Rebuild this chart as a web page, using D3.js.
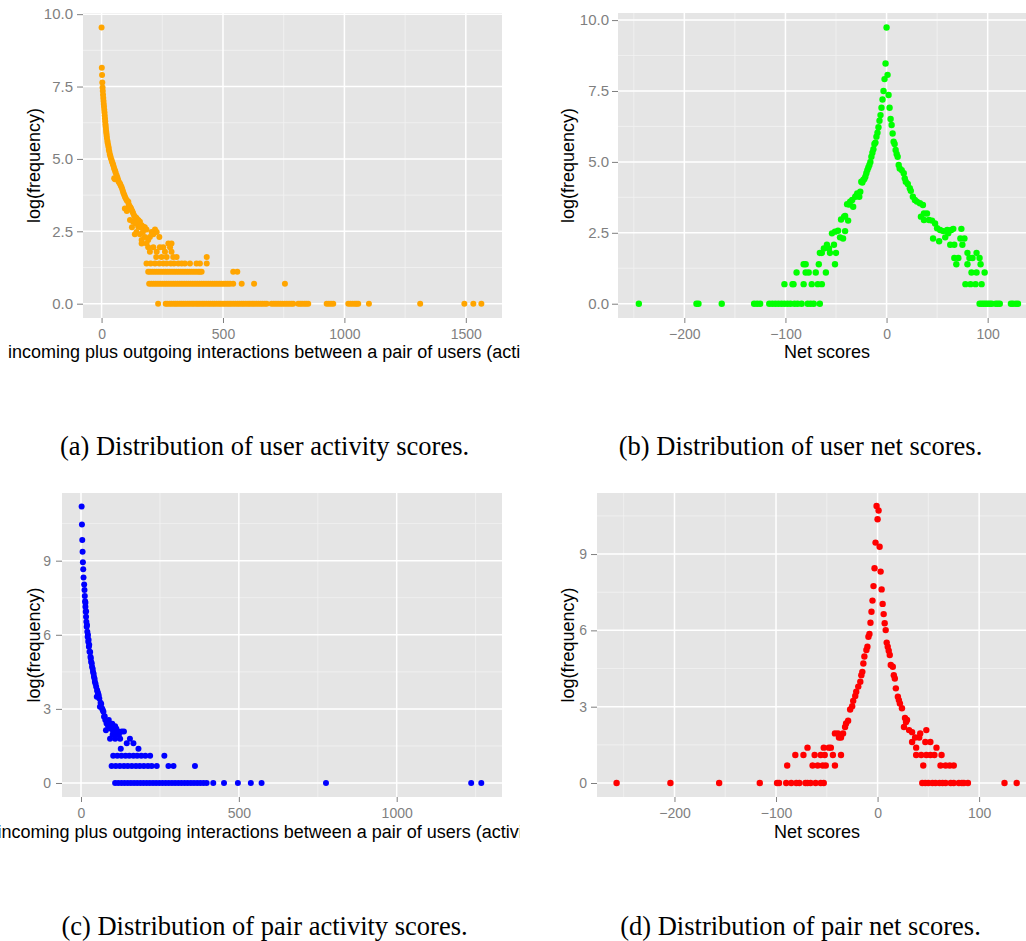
<!DOCTYPE html>
<html>
<head>
<meta charset="utf-8">
<script src="https://cdn.jsdelivr.net/npm/d3@7"></script>
<style>
  body { margin: 0; background: #fff; }
  text { font-family: "Liberation Sans", Arial, Helvetica, sans-serif; }
  .caption { font-family: "Liberation Serif", "Times New Roman", serif; }
</style>
</head>
<body>
<svg id="fig" width="1026" height="941"></svg>
<script>
// ---- data: log(frequency) by score ----
// (a) user activity: upper curve points, then rows of scores sharing one log(frequency) level
var userActivityCurve = [
  [0,9.54],[1,8.15],[2,7.9],[3,7.64],[4,7.47],[5,7.35],[6,7.22],[7,7.1],[8,7.0],[9,6.9],[10,6.8],
  [11,6.7],[12,6.6],[13,6.5],[14,6.4],[15,6.3],[16,6.2],[17,6.12],[18,6.03],[19,5.95],[20,5.88],
  [21,5.8],[22,5.72],[24,5.63],[25,5.56],[27,5.48],[29,5.4],[30,5.32],[32,5.25],[34,5.16],[36,5.1],
  [38,5.03],[41,4.96],[43,4.9],[46,4.84],[48,4.78],[51,4.7],[53,4.64],[56,4.58],[58,4.52],[62,4.44],
  [52,4.33],[55,4.3],[65,4.36],[68,4.28],[70,4.22],[73,4.18],[76,4.14],[79,4.08],[82,4.03],[85,3.96],
  [88,3.88],[90,3.82],[93,3.76],[96,3.7],[99,3.64],[103,3.58],[106,3.55],[110,3.52],[112,3.43],
  [115,3.37],[118,3.33],[96,3.29],[121,3.3],[124,3.24],[127,3.18],[130,3.12],[104,3.2],[117,2.89],
  [134,3.05],[137,3.0],[141,2.98],[144,2.95],[148,2.9],[152,2.88],[158,2.83],[130,2.83],[151,2.66],
  [165,2.71],[172,2.66],[178,2.64],[185,2.56],[137,2.4],[144,2.48],[158,2.4],[165,2.2],[199,2.3],
  [206,2.48],[213,2.4],[220,2.56],[227,2.48],[238,2.3],[192,2.2],[178,2.3],[125,2.64],[140,2.77],
  [150,2.83],[160,2.64],[170,2.48]
];
var userActivityRows = [
  [2.08, [165,185,275,288]],
  [1.95, [192,213,240,254,282]],
  [1.79, [199,227,261,288]],
  [1.61, [225,247,268,295,309,433]],
  [1.39, [185,202,220,238,254,268,285,298,316,330,343,364,391,405,433]],
  [1.1,  [192,200,209,218,227,236,245,254,263,272,281,290,299,308,317,326,335,344,353,362,371,380,
          389,398,405,412,542,559]],
  [0.69, [196,205,214,223,232,241,250,259,268,277,286,295,304,313,322,331,340,349,358,367,376,385,
          394,403,412,421,430,439,448,457,466,475,484,493,502,511,520,529,542,577,628,755]],
  [0,    [233,264,271,280,288,297,305,313,322,330,338,346,355,363,372,380,389,397,405,414,422,431,
          440,448,457,465,474,483,491,500,508,517,525,533,542,551,560,568,577,585,594,603,611,620,
          628,637,646,655,663,672,680,700,709,718,727,736,745,754,763,772,781,789,810,818,826,835,
          843,851,927,936,945,954,1016,1025,1034,1043,1050,1057,1101,1312,1494,1531,1564]]
];

// (b) user net scores
var userNetCurve = [
  [0,9.74],[-1,8.47],[1,8.07],[-2,7.92],[-3,7.5],[2,7.36],[-4,7.2],[-5,6.91],[3,6.91],
  [-6,6.65],[-7,6.45],[-8,6.22],[-9,6.03],[-10,5.89],[-11,5.68],[-12,5.63],[-13,5.45],[-14,5.32],
  [-15,5.18],[-16,5.0],[-17,4.89],[-18,4.8],[-19,4.71],[-20,4.6],[-21,4.48],[-22,4.4],[-23,4.36],
  [-24,4.27],[-25,4.3],[-26,3.95],[-27,3.77],[-29,3.89],[-30,3.8],[-31,3.77],[-33,3.42],[-34,3.66],
  [-36,3.6],[-37,3.5],[-39,3.51],[-41,3.09],[-42,3.07],[-45,2.97],[-38,2.93],[-41,2.56],[-43,2.3],
  [-46,2.34],[-48,2.57],[-51,2.54],[-54,2.48],[-52,2.08],[-56,1.79],[-57,1.95],[-59,2.08],[-62,1.95],
  [-50,1.79],[-66,1.79],[-64,1.79],
  [4,6.51],[5,6.3],[6,6.0],[7,5.71],[8,5.63],[9,5.42],[10,5.28],[11,5.18],[12,4.89],[13,4.77],
  [15,4.71],[17,4.6],[18,4.42],[19,4.3],[21,4.22],[23,4.07],[24,3.98],[26,3.77],[28,3.66],[30,3.6],
  [33,3.54],[36,3.48],[37,3.18],[34,3.07],[37,2.95],[40,3.18],[42,2.95],[45,2.93],[48,2.83],
  [50,2.66],[53,2.6],[56,2.56],[60,2.6],[61,2.48],[64,2.6],[66,2.64],[74,2.64],[46,2.3],[52,2.2],
  [58,2.34],[63,2.08],[67,2.08],[73,2.3],[75,2.08],[77,2.3],[80,1.79],[89,1.79]
];
var userNetRows = [
  [1.61, [67,71,82,85,92]],
  [1.39, [-82,-80,-67,-51,69,80,93]],
  [1.1,  [-89,-80,-77,-70,-60,84,89,97]],
  [0.69, [-101,-93,-92,-82,-74,-68,-64,78,83,88,94]],
  [0,    [-245,-188,-186,-163,-131,-128,-125,-116,-113,-110,-107,-104,-101,-98,-95,-91,-88,-84,
          -78,-75,-72,-66,92,94,96,98,100,102,104,108,110,112,123,125,128,130]]
];

// (c) pair activity
var pairActivityCurve = [
  [2,11.19],[3,10.46],[4,9.84],[5,9.36],[6,8.94],[7,8.65],[8,8.32],[10,8.04],[11,7.81],[12,7.57],
  [13,7.36],[14,7.13],[15,6.93],[16,6.73],[17,6.53],[18,6.33],[20,6.12],[21,5.92],[23,5.72],
  [25,5.52],[27,5.31],[30,5.11],[32,4.91],[35,4.71],[38,4.5],[41,4.3],[44,4.1],[48,3.9],[51,3.76],
  [54,3.63],[50,3.49],[58,3.42],[62,3.25],[60,3.09],[67,3.02],[71,2.88],[73,2.68],[77,2.55],
  [81,2.41],[88,2.55],[92,2.28],[79,2.14],[97,2.34],[108,2.3],[102,2.08],[129,2.08],[136,2.08],
  [113,1.95],[92,1.79],[108,1.79],[124,1.79],[155,1.79],[145,1.61],[166,1.61],[126,1.39],[182,1.39],
  [14,7.3],[16,6.95],[19,6.4],[22,6.0],[24,5.8],[26,5.6],[29,5.3],[31,5.05],[34,4.85],[37,4.62],
  [40,4.42],[43,4.22],[46,4.02],[52,3.7],[56,3.55],[64,3.2],[69,2.95],[75,2.7],[84,2.45],[86,2.3],
  [95,2.2],[99,2.4],[104,2.2],[112,2.2],[118,2.08],[120,1.95],[100,1.95]
];
var pairActivityRows = [
  [1.1,  [102,115,128,141,153,166,178,191,204,219,264]],
  [0.69, [97,110,123,136,148,161,174,186,199,212,224,240,277,293,361]],
  [0,    [108,118,128,138,148,158,168,178,188,198,208,218,228,238,248,258,268,278,288,298,308,318,
          328,338,348,358,368,378,388,398,419,453,497,538,572,776,1236,1268]]
];

// (d) pair net scores
var pairNetCurve = [
  [-1,10.89],[1,10.71],[0,10.37],[-2,9.45],[2,9.29],[-3,8.44],[3,8.31],[-4,7.74],[4,7.61],
  [-5,7.17],[5,7.04],[-6,6.73],[6,6.64],[-7,6.3],[7,6.28],[8,6.01],[-8,5.86],[-9,5.75],[9,5.52],
  [10,5.36],[11,5.2],[12,5.03],[13,4.64],[15,4.57],[16,4.24],[17,4.11],[18,3.72],[20,3.39],
  [21,3.26],[22,3.13],[24,2.94],[27,2.56],[29,2.48],[28,2.4],[26,2.2],[31,2.08],[34,2.0],[37,1.79],
  [41,1.79],[42,1.95],[48,2.08],[-10,5.36],[-11,5.23],[-13,4.97],[-14,4.7],[-15,4.37],[-16,4.24],
  [-17,3.98],[-19,3.79],[-21,3.59],[-22,3.42],[-24,3.23],[-25,3.02],[-27,2.89],[-29,2.45],
  [-31,2.34],[-32,2.2],[-34,1.95],[-36,1.79],[-39,1.95],[-38,1.79],[-42,1.95]
];
var pairNetRows = [
  [1.61, [34,47,52]],
  [1.39, [-69,-53,-48,-46,38,58]],
  [1.1,  [-81,-73,-62,-56,-52,-44,-36,38,43,48,52,56,63]],
  [0.69, [-89,-64,-59,-54,-51,-42,45,62,67,71,75]],
  [0,    [-257,-204,-156,-116,-99,-97,-90,-85,-80,-77,-71,-69,-66,-61,-56,-53,44,47,50,54,57,61,
          64,67,72,75,80,83,85,89,125,137]]
];

// ticks
var activityTicksA = [0, 500, 1000, 1500];
var activityTicksC = [0, 500, 1000];
var netTicks = [-200, -100, 0, 100];
var logTicksTop = [0, 2.5, 5, 7.5, 10];
var logTicksBottom = [0, 3, 6, 9];

var activityTitle = "incoming plus outgoing interactions between a pair of users (activity score)";
var netTitle = "Net scores";
var yTitle = "log(frequency)";

var svg = d3.select('#fig');

function points(curve, rows) {
  var out = curve.map(function(d) { return { x: d[0], y: d[1] }; });
  rows.forEach(function(r) {
    r[1].forEach(function(v) { out.push({ x: v, y: r[0] }); });
  });
  return out;
}

function drawPanel(p) {
  var x0 = p.box[0], y0 = p.box[1], x1 = p.box[2], y1 = p.box[3];
  var x = d3.scaleLinear().domain(p.xDom).range([x0, x1]);
  var y = d3.scaleLinear().domain(p.yDom).range([y1, y0]);
  var g = svg.append('g');

  g.append('rect')
    .attr('x', x0).attr('y', y0)
    .attr('width', x1 - x0).attr('height', y1 - y0)
    .attr('fill', '#e5e5e5');

  // minor grid
  g.selectAll('.minx').data(p.xMinor).enter().append('line')
    .attr('x1', x).attr('x2', x).attr('y1', y0).attr('y2', y1)
    .attr('stroke', '#f2f2f2').attr('stroke-width', 0.8);
  g.selectAll('.miny').data(p.yMinor).enter().append('line')
    .attr('x1', x0).attr('x2', x1).attr('y1', y).attr('y2', y)
    .attr('stroke', '#f2f2f2').attr('stroke-width', 0.8);
  // major grid
  g.selectAll('.majx').data(p.xTicks).enter().append('line')
    .attr('x1', x).attr('x2', x).attr('y1', y0).attr('y2', y1)
    .attr('stroke', '#fff').attr('stroke-width', 1.5);
  g.selectAll('.majy').data(p.yTicks).enter().append('line')
    .attr('x1', x0).attr('x2', x1).attr('y1', y).attr('y2', y)
    .attr('stroke', '#fff').attr('stroke-width', 1.5);

  g.selectAll('circle').data(points(p.curve, p.rows)).enter().append('circle')
    .attr('cx', function(d) { return x(d.x); })
    .attr('cy', function(d) { return y(d.y); })
    .attr('r', p.r)
    .attr('fill', p.color);

  // axes
  var ax = g.append('g').attr('transform', 'translate(0,' + y1 + ')')
    .call(d3.axisBottom(x).tickValues(p.xTicks).tickSize(5).tickPadding(6.5).tickFormat(d3.format('d')));
  var ay = g.append('g').attr('transform', 'translate(' + x0 + ',0)')
    .call(d3.axisLeft(y).tickValues(p.yTicks).tickSize(6).tickPadding(p.yPad).tickFormat(d3.format(p.yFmt)));
  [ax, ay].forEach(function(a) {
    a.select('.domain').remove();
    a.attr('font-family', null).attr('font-size', 14);
    a.selectAll('line').attr('stroke', '#7f7f7f');
    a.selectAll('text').attr('fill', '#7f7f7f');
  });
  ay.attr('font-size', p.yFont);

  // x title
  var clip = 'clip-' + p.id;
  svg.append('clipPath').attr('id', clip).append('rect')
    .attr('x', p.clip[0]).attr('y', 0).attr('width', p.clip[1] - p.clip[0]).attr('height', 941);
  g.append('text')
    .attr('clip-path', 'url(#' + clip + ')')
    .attr('x', p.xTitleX).attr('y', p.xTitleY)
    .attr('text-anchor', p.xTitleAnchor)
    .attr('font-size', 18)
    .attr('fill', '#000')
    .text(p.xTitle);

  // y title
  g.append('text')
    .attr('transform', 'translate(' + p.yTitleX + ',' + ((y0 + y1) / 2) + ') rotate(-90)')
    .attr('text-anchor', 'middle')
    .attr('font-size', 18)
    .attr('fill', '#000')
    .text(yTitle);

  // caption
  svg.append('text')
    .attr('class', 'caption')
    .attr('x', p.capX).attr('y', p.capY)
    .attr('text-anchor', 'middle')
    .attr('font-size', 26.5)
    .attr('fill', '#000')
    .text(p.caption);
}

var panels = [
  { id: 'a', curve: userActivityCurve, rows: userActivityRows, color: '#FFA500', r: 3,
    box: [83, 13, 502, 318], xDom: [-76.5, 1649], yDom: [-0.494, 10.04],
    xTicks: activityTicksA, xMinor: [250, 750, 1250], yTicks: logTicksTop, yMinor: [1.25, 3.75, 6.25, 8.75],
    yFmt: '.1f', yPad: 4, yFont: 15, xTitle: activityTitle, xTitleX: 8, xTitleY: 358, xTitleAnchor: 'start',
    clip: [0, 520], yTitleX: 39.5, caption: '(a) Distribution of user activity scores.', capX: 264.5, capY: 455 },
  { id: 'b', curve: userNetCurve, rows: userNetRows, color: '#00FF00', r: 3.2,
    box: [618, 13, 1036, 318], xDom: [-265.6, 147.8], yDom: [-0.504, 10.25],
    xTicks: netTicks, xMinor: [-250, -150, -50, 50], yTicks: logTicksTop, yMinor: [1.25, 3.75, 6.25, 8.75],
    yFmt: '.1f', yPad: 3, yFont: 15, xTitle: netTitle, xTitleX: 827, xTitleY: 357.5, xTitleAnchor: 'middle',
    clip: [530, 1026], yTitleX: 574, caption: '(b) Distribution of user net scores.', capX: 800.5, capY: 455 },
  { id: 'c', curve: pairActivityCurve, rows: pairActivityRows, color: '#0000FF', r: 3,
    box: [62, 493, 502, 797], xDom: [-60.2, 1333.6], yDom: [-0.567, 11.74],
    xTicks: activityTicksC, xMinor: [250, 750, 1250], yTicks: logTicksBottom, yMinor: [1.5, 4.5, 7.5, 10.5],
    yFmt: 'd', yPad: 5, yFont: 14, xTitle: activityTitle, xTitleX: -2.5, xTitleY: 838, xTitleAnchor: 'start',
    clip: [0, 520], yTitleX: 39.5, caption: '(c) Distribution of pair activity scores.', capX: 264.5, capY: 935 },
  { id: 'd', curve: pairNetCurve, rows: pairNetRows, color: '#FF0000', r: 3.2,
    box: [597, 493, 1037, 797], xDom: [-276.3, 157], yDom: [-0.55, 11.4],
    xTicks: netTicks, xMinor: [-250, -150, -50, 50, 150], yTicks: logTicksBottom, yMinor: [1.5, 4.5, 7.5, 10.5],
    yFmt: 'd', yPad: 4, yFont: 14, xTitle: netTitle, xTitleX: 817, xTitleY: 837.5, xTitleAnchor: 'middle',
    clip: [530, 1026], yTitleX: 574, caption: '(d) Distribution of pair net scores.', capX: 800.5, capY: 935 }
];

panels.forEach(drawPanel);
</script>
</body>
</html>
